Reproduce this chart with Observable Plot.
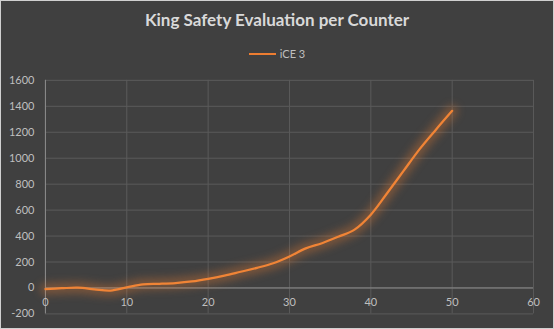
<!DOCTYPE html>
<html>
<head>
<meta charset="utf-8">
<script src="https://cdn.jsdelivr.net/npm/d3@7"></script>
<script src="https://cdn.jsdelivr.net/npm/@observablehq/plot@0.6"></script>
<style>
  html, body { margin: 0; padding: 0; background: #404040; }
  #wrap { position: relative; width: 554px; height: 329px; box-sizing: border-box; border: 1px solid #d0d0d0; background: #404040; overflow: hidden; }
  #chart { position: absolute; left: -1px; top: -1px; }
  #title { position: absolute; left: 0; right: 0; top: 9px; text-align: center; font: bold 17px Lato, sans-serif; color: #d9d9d9; line-height: 20px; }
  #legend { position: absolute; left: 0; right: 0; top: 46px; text-align: center; font: 11px Lato, sans-serif; color: #bfbfbf; line-height: 14px; }
  #legend .sw { display: inline-block; width: 27px; height: 2px; background: #ed7d31; vertical-align: middle; margin-right: 4px; position: relative; top: -1px; }
</style>
</head>
<body>
<div id="wrap">
  <div id="chart"></div>
  <div id="title">King Safety Evaluation per Counter</div>
  <div id="legend"><span class="sw"></span>iCE 3</div>
</div>
<script>
const counters = [0, 2, 4, 6, 8, 10, 12, 14, 16, 18, 20, 22, 24, 26, 28, 30, 32, 34, 36, 38, 40, 42, 44, 46, 48, 50];
const ice3 = [-8, -2, 2, -10, -20, 5, 28, 32, 38, 50, 70, 95, 125, 155, 190, 243, 305, 345, 395, 450, 565, 730, 900, 1070, 1220, 1365];
const xTicks = [0, 10, 20, 30, 40, 50, 60];
const yTicks = [-200, 0, 200, 400, 600, 800, 1000, 1200, 1400, 1600];

const data = counters.map((c, i) => ({counter: c, value: ice3[i]}));

const chart = Plot.plot({
  width: 554,
  height: 329,
  marginLeft: 45,
  marginRight: 20,
  marginTop: 80,
  marginBottom: 15,
  style: {background: "transparent", color: "#bfbfbf", fontFamily: "Lato, sans-serif", fontSize: "11px"},
  x: {domain: [0, 60], axis: null},
  y: {domain: [-200, 1600]},
  marks: [
    Plot.gridY(yTicks, {stroke: "#5a5a5a", strokeOpacity: 1}),
    Plot.gridX(xTicks, {stroke: "#5a5a5a", strokeOpacity: 1}),
    Plot.ruleY([0], {stroke: "#8c8c8c"}),
    Plot.ruleX([0], {stroke: "#8c8c8c"}),
    Plot.axisY(yTicks, {tickSize: 0, tickPadding: 11, label: null, fill: "#bfbfbf", tickFormat: d => String(d)}),
    Plot.text(xTicks, {x: d => d, y: () => 0, dy: 15, fill: "#bfbfbf", text: d => String(d)}),
    Plot.line(data, {x: "counter", y: "value", stroke: "#ed7d31", strokeWidth: 11, strokeOpacity: 0.35, curve: "catmull-rom"}),
    Plot.line(data, {x: "counter", y: "value", stroke: "#f08436", strokeWidth: 2.25, curve: "catmull-rom"})
  ]
});
const lines = chart.querySelectorAll('g[aria-label="line"]');
if (lines.length) lines[0].style.filter = "blur(4px)";
document.getElementById("chart").appendChild(chart);
</script>
</body>
</html>
